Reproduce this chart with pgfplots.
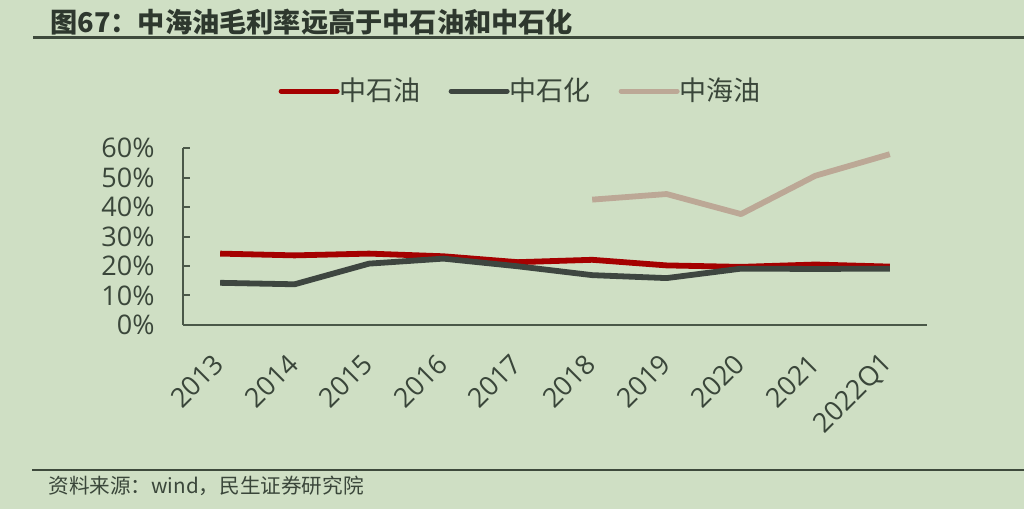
\documentclass[border=0pt]{standalone}
\usepackage{pgfplots}
\pgfplotsset{compat=1.18}
\usepackage{fontspec}
\setmainfont{Open Sans}
\newfontfamily\cjk{Noto Sans CJK SC}
\definecolor{bg}{RGB}{207,223,196}
\definecolor{cred}{RGB}{165,0,0}
\definecolor{cdark}{RGB}{62,70,64}
\definecolor{ctan}{RGB}{188,168,150}
\definecolor{txt}{RGB}{58,70,58}
\definecolor{axcol}{RGB}{74,88,72}
\definecolor{rulecol}{RGB}{62,74,60}
\begin{document}
\begin{tikzpicture}
\fill[bg] (0,0) rectangle (512pt,254.5pt);
% title
\node[anchor=west, inner sep=0pt, text=txt!80!black, font=\cjk\bfseries\fontsize{13.6pt}{15pt}\selectfont] at (25pt,243.3pt) {图67：中海油毛利率远高于中石油和中石化};
\draw[rulecol, line width=1.5pt] (16.5pt,235.5pt) -- (512pt,235.5pt);
% source
\draw[rulecol, line width=1.2pt] (16pt,19.5pt) -- (512pt,19.5pt);
\node[anchor=west, inner sep=0pt, text=txt, font=\cjk\fontsize{10.3pt}{12pt}\selectfont] at (24pt,11.5pt) {资料来源：wind，民生证券研究院};
\begin{axis}[
  at={(91.5pt,92pt)}, anchor=south west,
  scale only axis, width=372pt, height=88.5pt,
  xmin=-0.5, xmax=9.5, ymin=0, ymax=60,
  axis x line=bottom, axis y line=left,
  axis line style={-, draw=axcol, line width=1pt},
  xtick={0,...,9},
  xticklabels={2013,2014,2015,2016,2017,2018,2019,2020,2021,2022Q1},
  ytick={0,10,...,60},
  yticklabels={0\%,10\%,20\%,30\%,40\%,50\%,60\%},
  /pgf/number format/assume math mode=true,
  x tick style={draw=none},
  y tick style={draw=axcol, line width=1pt},
  tick align=inside, major tick length=3.5pt,
  ticklabel style={font=\fontsize{13.5pt}{15pt}\selectfont, text=txt},
  yticklabel style={inner sep=0pt, xshift=-14pt, anchor=east},
  xticklabel style={inner sep=0pt, xshift=-0.5pt, yshift=-17pt, rotate=45, anchor=east},
  legend columns=3,
  legend style={at={(axis description cs:0.128,1.322)}, anchor=west, draw=none, fill=none, inner sep=0pt,
    font=\cjk\fontsize{13.5pt}{15pt}\selectfont, text=txt,
    nodes={inner sep=0pt},
    /tikz/every even column/.append style={column sep=14pt}},
  legend image code/.code={\draw[#1, line width=2.5pt, line cap=round] (0pt,0pt) -- (28pt,0pt);},
  every axis plot/.append style={line width=2.9pt, line join=round, mark=none},
]
\addplot[cred] coordinates {(0,24.2) (1,23.6) (2,24.2) (3,23.3) (4,21.3) (5,22.1) (6,20.2) (7,19.7) (8,20.5) (9,19.8)};
\addlegendentry{中石油}
\addplot[cdark] coordinates {(0,14.3) (1,13.8) (2,20.8) (3,22.5) (4,19.9) (5,16.9) (6,15.9) (7,19.1) (8,19.0) (9,19.1)};
\addlegendentry{中石化}
\addplot[ctan] coordinates {(5,42.5) (6,44.4) (7,37.6) (8,50.6) (9,57.9)};
\addlegendentry{中海油}
\end{axis}
\pgfresetboundingbox
\path[use as bounding box] (0,0) rectangle (512pt,254.5pt);
\end{tikzpicture}
\end{document}
